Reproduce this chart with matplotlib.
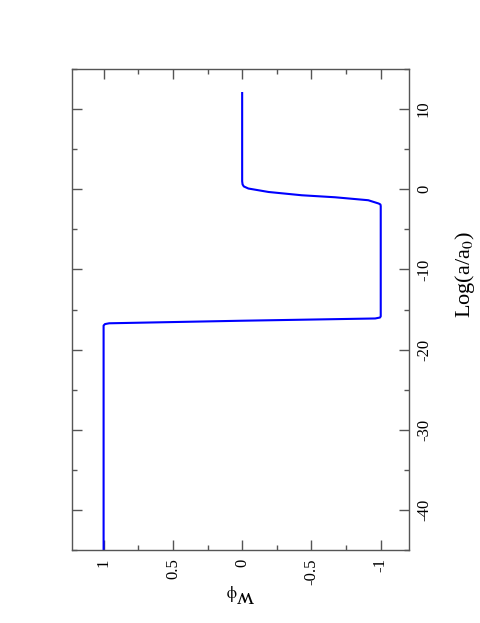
import numpy as np
import matplotlib
matplotlib.use("Agg")
import matplotlib.pyplot as plt
from matplotlib.ticker import MultipleLocator

# w_phi against Log(a/a0)
log_a = np.array([-45, -17.0, -16.82, -16.72, -16.4, -16.12, -16.0, -15.85,
                  -2.1, -1.9, -1.78, -1.37, -1.0, -0.75, -0.34, 0.09, 0.35, 0.6, 1.0, 12.0])
w_phi = np.array([1.0, 1.0, 0.99, 0.96, 0.0, -0.96, -0.995, -1.0,
                  -1.0, -0.998, -0.985, -0.91, -0.67, -0.43, -0.19, -0.045, -0.012, -0.003, 0.0, 0.0])

plt.rcParams['font.family'] = ['Liberation Serif', 'DejaVu Serif']
plt.rcParams['mathtext.fontset'] = 'stix'

fig = plt.figure(figsize=(4.81, 6.23), dpi=100)
ax = fig.add_axes([72/481, 1 - 550/623, 337/481, 481/623])

ax.plot(w_phi, log_a, color='#0000ff', lw=1.5)

ax.set_xlim(1.228, -1.204)
ax.set_ylim(-45, 15)

ax.xaxis.set_major_locator(MultipleLocator(0.5))
ax.xaxis.set_minor_locator(MultipleLocator(0.25))
ax.yaxis.set_major_locator(MultipleLocator(10))
ax.yaxis.set_minor_locator(MultipleLocator(5))

edge = '#555555'
for s in ax.spines.values():
    s.set_color(edge)
    s.set_linewidth(1.0)

ax.tick_params(which='both', direction='in', top=True, bottom=True, left=True, right=True,
               labelleft=False, labelright=True, color=edge, width=1.0)
ax.tick_params(which='major', length=7.5)
ax.tick_params(which='minor', length=3.8)
ax.tick_params(axis='x', which='major', pad=6, labelsize=12)
ax.tick_params(axis='y', which='major', pad=5, labelsize=12)

xticks = [1, 0.5, 0, -0.5, -1]
ax.set_xticks(xticks)
ax.set_xticklabels(['1', '0.5', '0', '-0.5', '-1'], rotation=90, va='top', ha='center')
yticks = [-40, -30, -20, -10, 0, 10]
ax.set_yticks(yticks)
ax.set_yticklabels([str(v) for v in yticks], rotation=90, va='center', ha='left')

ax.text(1.165, 0.572, r'Log(a/a$_0$)', transform=ax.transAxes, rotation=90,
        ha='center', va='center', fontsize=16)
ax.text(0.5, -0.088, r'w$_{\rm \phi}$', transform=ax.transAxes, rotation=180,
        ha='center', va='center', fontsize=17)

fig.savefig('out.png', dpi=100)
